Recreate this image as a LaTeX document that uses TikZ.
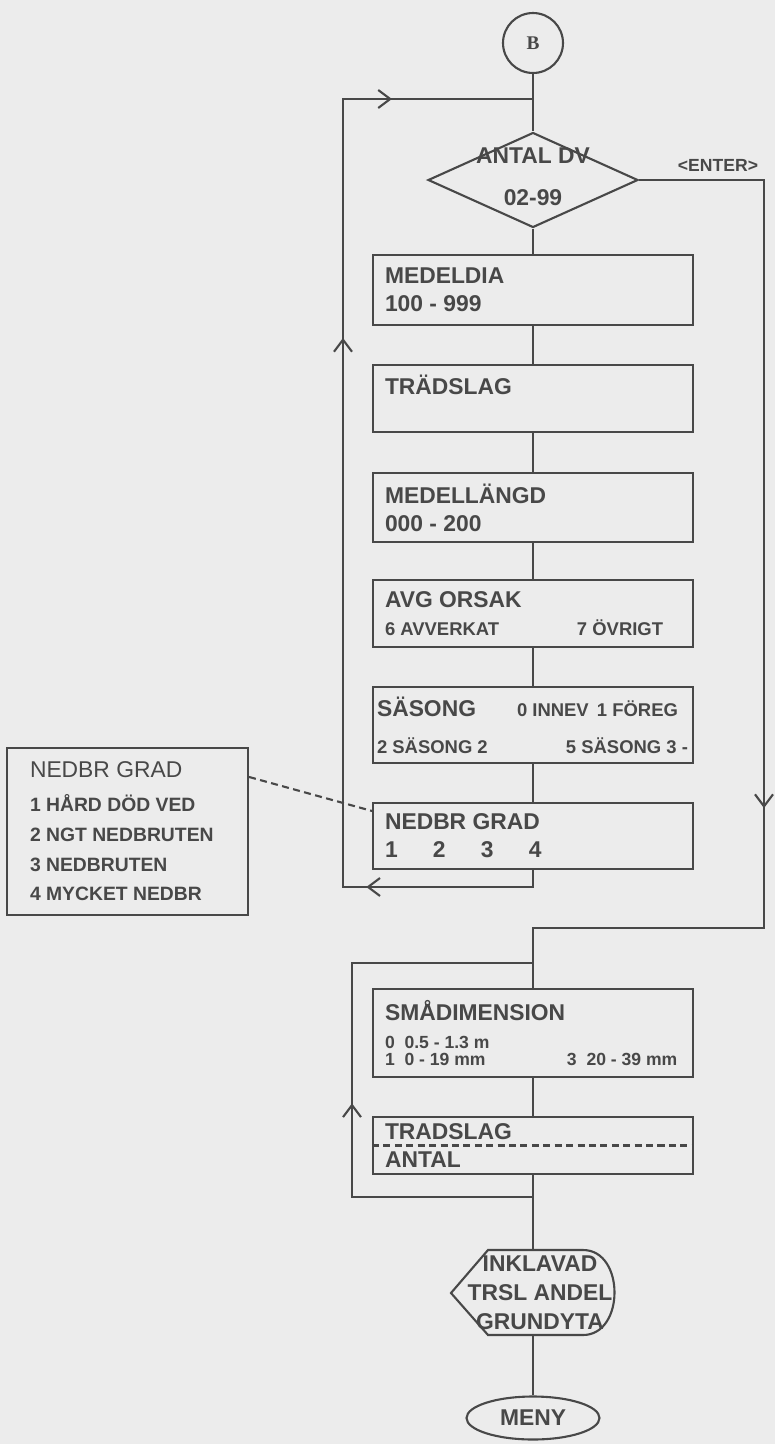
\documentclass[tikz,border=0pt]{standalone}
\usepackage{fontspec}
\setmainfont{Liberation Sans}
\newfontfamily\serifB{Liberation Serif}
\usetikzlibrary{arrows.meta,shapes.geometric,decorations.markings}
\definecolor{ink}{RGB}{72,72,72}
\definecolor{paper}{RGB}{236,236,236}
\newcommand{\boxfont}{\fontsize{13}{16}\selectfont\bfseries}
\newcommand{\subfont}{\fontsize{10.5}{14}\selectfont\bfseries}
\newcommand{\tinyfont}{\fontsize{10}{10.5}\selectfont\bfseries}
\tikzset{
    ink/.style={draw=ink, line width=1.2pt},
    post/.style={ink, rectangle, text width=5.92cm, inner xsep=0.24cm, inner ysep=0pt, align=flush left, font=\boxfont},
    flow/.style={ink, postaction={decorate}, decoration={markings, mark=at position #1 with {\arrow{Straight Barb[length=2.4mm,width=3.6mm]}}}},
}

\begin{document}
\begin{tikzpicture}[x=0.02cm, y=-0.02cm, every node/.style={text=ink}]
    \fill[paper] (0,0) rectangle (775,1444);
    \useasboundingbox (0,0) rectangle (775,1444);

    \node[circle, ink, minimum size=1.2cm, inner sep=0pt, font=\serifB\fontsize{11}{13}\selectfont\bfseries] (b) at (533,43) {B};
    \node[diamond, ink, minimum width=4.2cm, minimum height=1.9cm, inner sep=0pt] (dv) at (533,180) {};
    \node[align=center, font=\fontsize{13}{24}\selectfont\bfseries] (dvtext) at (533,177) {ANTAL DV\\02-99};
    \node[font=\fontsize{10}{12}\selectfont\bfseries] (enter) at (718,165) {<ENTER>};

    \node[post, minimum height=1.4cm] (medeldia) at (533,290) {MEDELDIA\\100 - 999};
    \node[post, minimum height=1.34cm] (tradslag) at (533,398.5) {TRÄDSLAG\\\mbox{}};
    \node[post, minimum height=1.38cm] (medellangd) at (533,507.5) {MEDELLÄNGD\\000 - 200};
    \node[post, minimum height=1.34cm] (orsak) at (533,613.5) {AVG ORSAK\\\mbox{\subfont\makebox[3.84cm][l]{6 AVVERKAT}7 ÖVRIGT}};
    \node[post, minimum height=1.52cm] (sasong) at (533,725) {\hspace*{-0.16cm}\mbox{\makebox[2.8cm][l]{SÄSONG}\makebox[1.6cm][l]{\subfont 0 INNEV}\subfont 1 FÖREG}\\[5pt]\hspace*{-0.16cm}\mbox{\subfont\makebox[6.22cm][l]{2 SÄSONG 2\hfill 5 SÄSONG 3 -}}};
    \node[post, minimum height=1.32cm] (nedbr) at (533,836) {NEDBR GRAD\\\mbox{\makebox[0.96cm][l]{1}\makebox[0.96cm][l]{2}\makebox[0.96cm][l]{3}4}};
    \node[ink, rectangle, text width=3.9cm, inner xsep=0.46cm, minimum height=3.34cm, align=flush left, font=\fontsize{11}{17}\selectfont\bfseries] (grader) at (127.5,831.5) {{\fontsize{13}{16}\selectfont\mdseries NEDBR GRAD}\\[2pt]1 HÅRD DÖD VED\\2 NGT NEDBRUTEN\\3 NEDBRUTEN\\4 MYCKET NEDBR};

    \node[post, minimum height=1.76cm] (smadim) at (533,1033) {SMÅDIMENSION\\\mbox{\tinyfont 0\ \ 0.5 - 1.3 m}\\[-6pt]\mbox{\tinyfont\makebox[3.64cm][l]{1\ \ 0 - 19 mm}3\ \ 20 - 39 mm}};
    \node[post, minimum height=1.14cm] (antal) at (533,1145.5) {TRADSLAG\\ANTAL};
    \node[minimum height=1.7cm, inner sep=0pt, align=center, font=\fontsize{13}{16.5}\selectfont\bfseries] (visa) at (540,1292.5) {INKLAVAD\\TRSL ANDEL\\GRUNDYTA};
    \node[ellipse, ink, minimum width=2.66cm, minimum height=0.86cm, inner sep=0pt, font=\fontsize{13}{15}\selectfont\bfseries] (meny) at (533,1418) {MENY};

    \coordinate (ltop) at (533,99);
    \coordinate (lbot) at (343,887);
    \coordinate (ehorn) at (764,928);
    \coordinate (stop) at (533,963);
    \coordinate (sbot) at (352,1197);

    \draw[ink] (b) -- (dv);
    \draw[ink] (dv) -- (medeldia);
    \draw[ink] (medeldia) -- (tradslag);
    \draw[ink] (tradslag) -- (medellangd);
    \draw[ink] (medellangd) -- (orsak);
    \draw[ink] (orsak) -- (sasong);
    \draw[ink] (sasong) -- (nedbr);
    \draw[ink, dashed, dash pattern=on 4pt off 2.5pt] ([yshift=-0.6cm]grader.north east) -- ([yshift=-0.18cm]nedbr.north west);
    \draw[ink, postaction={decorate}, decoration={markings,
        mark=at position 0.155 with {\arrow{Straight Barb[length=2.4mm,width=3.6mm]}},
        mark=at position 0.638 with {\arrow{Straight Barb[length=2.4mm,width=3.6mm]}},
        mark=at position 0.881 with {\arrow{Straight Barb[length=2.4mm,width=3.6mm]}}}]
        (nedbr.south) |- (lbot) |- (ltop);
    \draw[flow=0.647] (dv.east) -| (ehorn) -| (smadim.north);
    \draw[ink] (smadim) -- (antal);
    \draw[ink, dashed, dash pattern=on 4pt off 2.5pt] (antal.west) -- (antal.east);
    \draw[flow=0.48] (antal.south) |- (sbot) |- (stop);
    \draw[ink] (antal.south) -- (antal.south |- visa.north);
    \draw[ink] (451,1293) -- (488,1250) -- (583,1250) .. controls (625,1250) and (625,1335) .. (583,1335) -- (488,1335) -- cycle;
    \draw[ink] (antal.south |- visa.south) -- (meny);
\end{tikzpicture}
\end{document}
